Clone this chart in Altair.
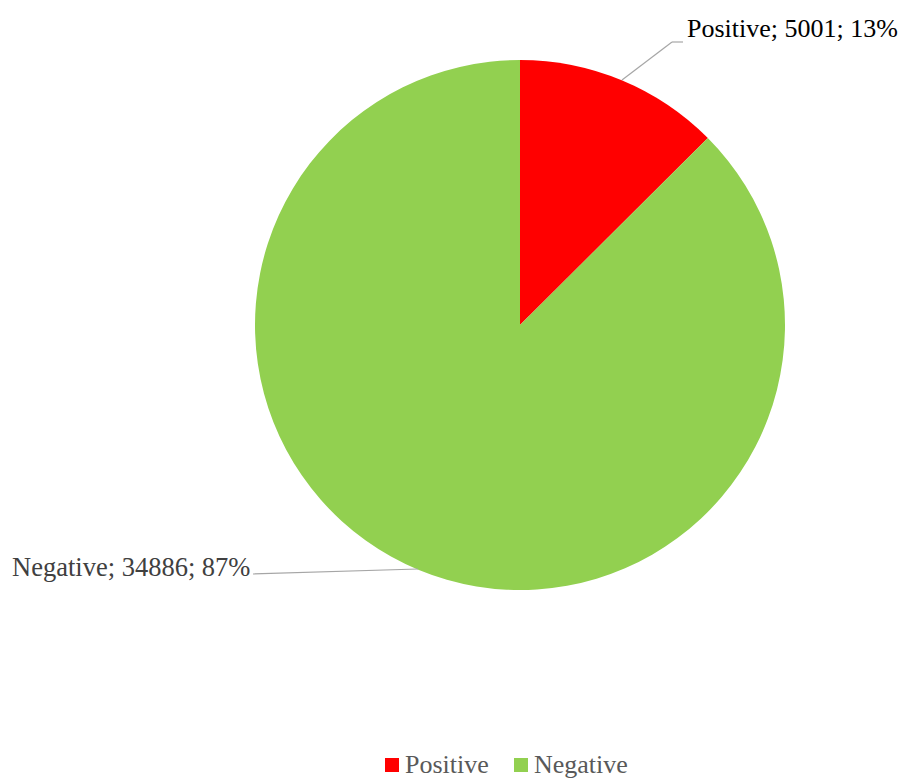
import altair as alt
import pandas as pd

categories = ["Positive", "Negative"]
counts = [5001, 34886]
colors = ["#FF0000", "#92D050"]

total = sum(counts)
df = pd.DataFrame({
    "category": categories,
    "count": counts,
    "order": list(range(len(categories))),
})
df["label"] = [f"{c}; {v}; {round(v / total * 100)}%" for c, v in zip(categories, counts)]

W, H = 891, 775
CX, CY, R = 512, 317, 265
FONT = "Liberation Serif"

base = alt.Chart(df)

pie = base.mark_arc(radius=R, stroke=None).encode(
    theta=alt.Theta("count:Q", stack=True),
    order=alt.Order("order:Q"),
    color=alt.Color(
        "category:N",
        scale=alt.Scale(domain=categories, range=colors),
        sort=categories,
        legend=alt.Legend(
            title=None,
            orient="none",
            legendX=371,
            legendY=744,
            direction="horizontal",
            symbolType="square",
            symbolSize=196,
            symbolStrokeWidth=0,
            labelFont=FONT,
            labelFontSize=26,
            labelColor="#595959",
            labelOffset=0,
            columnPadding=19,
            labelLimit=300,
        ),
    ),
    x=alt.value(CX),
    y=alt.value(CY),
)

pos_label = base.transform_filter(alt.datum.category == "Positive").mark_text(
    font=FONT, fontSize=26, color="#000000", align="left", baseline="alphabetic"
).encode(text="label:N", x=alt.value(679), y=alt.value(29))

neg_label = base.transform_filter(alt.datum.category == "Negative").mark_text(
    font=FONT, fontSize=26.5, color="#404040", align="left", baseline="alphabetic"
).encode(text="label:N", x=alt.value(4), y=alt.value(568))

line_style = dict(color="#A6A6A6", strokeWidth=1.2)
pos_line1 = base.transform_filter(alt.datum.category == "Positive").mark_rule(**line_style).encode(
    x=alt.value(614), y=alt.value(72), x2=alt.value(664), y2=alt.value(34))
pos_line2 = base.transform_filter(alt.datum.category == "Positive").mark_rule(**line_style).encode(
    x=alt.value(664), y=alt.value(34), x2=alt.value(675), y2=alt.value(34))
neg_line = base.transform_filter(alt.datum.category == "Negative").mark_rule(**line_style).encode(
    x=alt.value(245), y=alt.value(566), x2=alt.value(410), y2=alt.value(561))

chart = alt.layer(pie, pos_line1, pos_line2, neg_line, pos_label, neg_label).properties(
    width=W, height=H, autosize=alt.AutoSizeParams(type="none"), padding=0
).configure_view(stroke=None)

chart.save("out.html", embed_options={"renderer": "svg", "actions": False})
